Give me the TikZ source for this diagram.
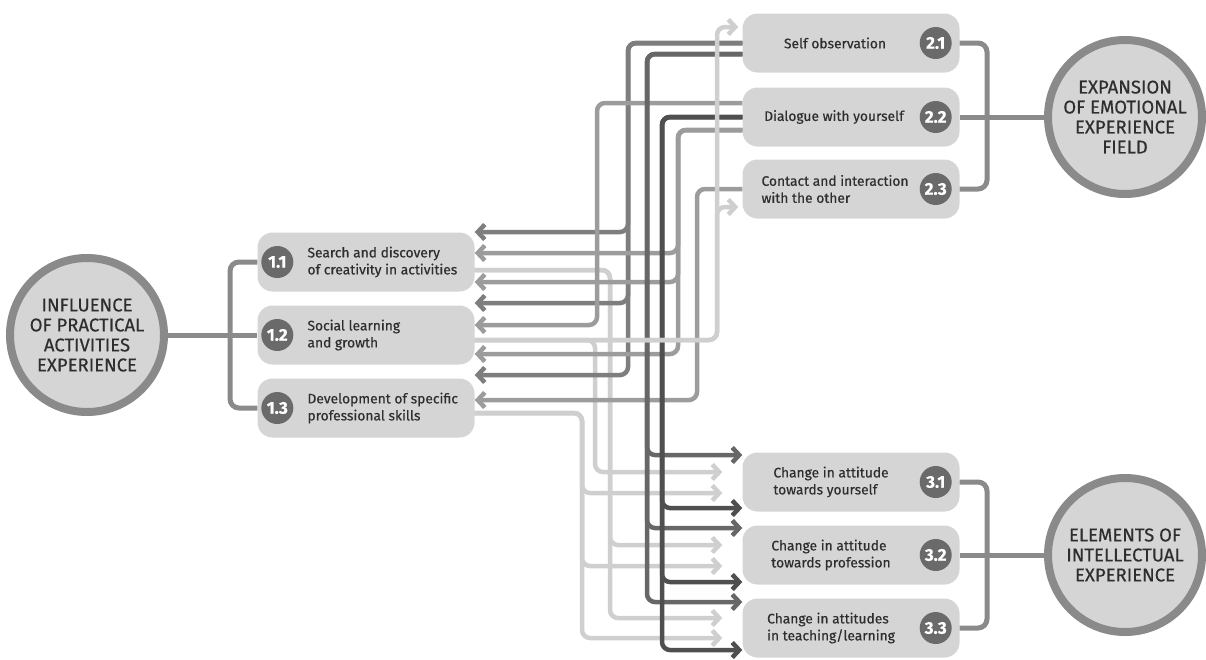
\documentclass[tikz,border=0pt]{standalone}
\usepackage{fontspec}
\setmainfont{Fira Sans}[FakeBold=0.4]
\usetikzlibrary{arrows.meta}
\tikzset{>={Straight Barb[length=7pt,width=15pt]}}

\definecolor{cardfill}{HTML}{D5D5D5}
\definecolor{rimgray}{HTML}{8A8A8A}
\definecolor{badgegray}{HTML}{6A6A6A}
\definecolor{inkgray}{HTML}{2E2E2E}
\definecolor{wirelt}{HTML}{CFCFCF}
\definecolor{wiremd}{HTML}{9C9C9C}
\definecolor{wiredk}{HTML}{7E7E7E}
\definecolor{wiredkr}{HTML}{676767}
\definecolor{wiredkst}{HTML}{4F4F4F}

\begin{document}
\begin{tikzpicture}[x=1pt,y=-1pt,
  bigring/.style={circle, draw=rimgray, line width=8pt, fill=cardfill, minimum size=154pt,
    align=center, text=inkgray, font=\fontsize{18.5}{20}\selectfont},
  card/.style={fill=cardfill, rounded corners=15pt, minimum width=217pt, minimum height=59pt},
  badge/.style={circle, fill=badgegray, text=white, minimum size=32pt, inner sep=0pt,
    font=\fontsize{17}{17}\selectfont\bfseries},
  cardtext/.style={align=left, inner sep=0pt, text=inkgray, font=\fontsize{13.8}{17}\selectfont},
  bracket/.style={draw=rimgray, line width=5pt, rounded corners=9pt},
  wire/.style={line width=4.5pt, rounded corners=8pt},
  wlt/.style={wire, draw=wirelt},
  wmd/.style={wire, draw=wiremd},
  wdk/.style={wire, draw=wiredk},
  wdkr/.style={wire, draw=wiredkr},
  wdkst/.style={wire, draw=wiredkst}]

  \useasboundingbox (0,0) rectangle (1206,659);

  % big circles
  \node[bigring] (c1) at (87,335) {INFLUENCE\\OF PRACTICAL\\ACTIVITIES\\EXPERIENCE};
  \node[bigring] (c2) at (1125,117) {EXPANSION\\OF EMOTIONAL\\EXPERIENCE\\FIELD};
  \node[bigring] (c3) at (1125,555) {ELEMENTS OF\\INTELLECTUAL\\EXPERIENCE};

  % cards 1.x
  \node[card] (b11) at (366,262) {};
  \node[card] (b12) at (366,335) {};
  \node[card] (b13) at (366,408) {};
  \node[badge] (n11) at ([xshift=20pt]b11.west) {1.1};
  \node[badge] (n12) at ([xshift=20pt]b12.west) {1.2};
  \node[badge] (n13) at ([xshift=20pt]b13.west) {1.3};
  \node[cardtext, anchor=west] (t11) at ([xshift=50pt]b11.west) {Search and discovery\\of creativity in activities};
  \node[cardtext, anchor=west] (t12) at ([xshift=50pt]b12.west) {Social learning\\and growth};
  \node[cardtext, anchor=west] (t13) at ([xshift=50pt]b13.west) {Development of specific\\professional skills};

  % cards 2.x
  \node[card] (b21) at (851,43) {};
  \node[card] (b22) at (851,117) {};
  \node[card] (b23) at (851,189) {};
  \node[badge] (n21) at ([xshift=-24pt]b21.east) {2.1};
  \node[badge] (n22) at ([xshift=-24pt]b22.east) {2.2};
  \node[badge] (n23) at ([xshift=-24pt]b23.east) {2.3};
  \node[cardtext] (t21) at ([xshift=-16pt]b21.center) {Self observation};
  \node[cardtext] (t22) at ([xshift=-17pt]b22.center) {Dialogue with yourself};
  \node[cardtext] (t23) at ([xshift=-16pt]b23.center) {Contact and interaction\\with the other};

  % cards 3.x
  \node[card] (b31) at (851,482) {};
  \node[card] (b32) at (851,555) {};
  \node[card] (b33) at (851,628) {};
  \node[badge] (n31) at ([xshift=-24pt]b31.east) {3.1};
  \node[badge] (n32) at ([xshift=-24pt]b32.east) {3.2};
  \node[badge] (n33) at ([xshift=-24pt]b33.east) {3.3};
  \node[cardtext] (t31) at ([xshift=-20pt]b31.center) {Change in attitude\\towards yourself};
  \node[cardtext] (t32) at ([xshift=-20pt]b32.center) {Change in attitude\\towards profession};
  \node[cardtext] (t33) at ([xshift=-20pt]b33.center) {Change in attitudes\\in teaching/learning};

  % brackets
  \coordinate (j1) at (230,335);
  \coordinate (j2) at (987,117);
  \coordinate (j3) at (987,555);
  \draw[bracket] (c1) -- (b12);
  \draw[bracket] (b11.west) -| (j1) |- (b13.west);
  \draw[bracket] (b22) -- (c2);
  \draw[bracket] (b21.east) -| (j2) |- (b23.east);
  \draw[bracket] (b32) -- (c3);
  \draw[bracket] (b31.east) -| (j3) |- (b33.east);

  % light wires 1.x -> 3.x
  \draw[wlt,->,shorten >=20pt] (b11.east |- 0,270) -| (610,545) -- (b32.west |- 0,545);
  \draw[wlt,->,shorten >=20pt] (b11.east |- 0,270) -| (610,618) -- (b33.west |- 0,618);
  \draw[wlt,->,shorten >=20pt] (b12.east |- 0,340) -| (595,472) -- (b31.west |- 0,472);
  \draw[wlt,->,shorten >=20pt] (b13.east |- 0,413) -| (582,493) -- (b31.west |- 0,493);
  \draw[wlt,->,shorten >=20pt] (b13.east |- 0,413) -| (582,566) -- (b32.west |- 0,566);
  \draw[wlt,->,shorten >=20pt] (b13.east |- 0,413) -| (582,638) -- (b33.west |- 0,638);

  % 2.x -> 1.x
  \draw[wdk,->] (b21.west) -| (628,232) -- (b11.east |- 0,232);
  \draw[wdk,->] (b21.west) -| (628,303) -- (b12.east |- 0,303);
  \draw[wdk,->] (b21.west) -| (628,375) -- (b13.east |- 0,375);
  \draw[wmd,->] (b22.west |- 0,103) -| (597,325) -- (b12.east |- 0,325);
  \draw[wmd,->] (b22.west |- 0,130) -| (678,253) -- (b11.east |- 0,253);
  \draw[wmd,->] (b22.west |- 0,130) -| (678,282) -- (b11.east |- 0,282);
  \draw[wmd,->] (b22.west |- 0,130) -| (678,354) -- (b12.east |- 0,354);
  \draw[wmd,->] (b23.west) -| (697,400) -- (b13.east |- 0,400);

  % 2.x -> 3.x
  \draw[wdkr,->] (b21.west |- 0,54) -| (647,455) -- (b31.west |- 0,455);
  \draw[wdkr,->] (b21.west |- 0,54) -| (647,528) -- (b32.west |- 0,528);
  \draw[wdkr,->] (b21.west |- 0,54) -| (647,602) -- (b33.west |- 0,602);
  \draw[wdkst,->] (b22.west) -| (662,508) -- (b31.west |- 0,508);
  \draw[wdkst,->] (b22.west) -| (662,582) -- (b32.west |- 0,582);
  \draw[wdkst,->] (b22.west) -| (662,650) -- (b33.west |- 0,650);

  % light wires 1.2 -> 2.x
  \draw[wlt,->,shorten >=4pt] (b12.east |- 0,340) -| (717,27) -- (b21.west |- 0,27);
  \draw[wlt,->,shorten >=4pt] (b12.east |- 0,340) -| (717,207) -- (b23.west |- 0,207);

\end{tikzpicture}
\end{document}
